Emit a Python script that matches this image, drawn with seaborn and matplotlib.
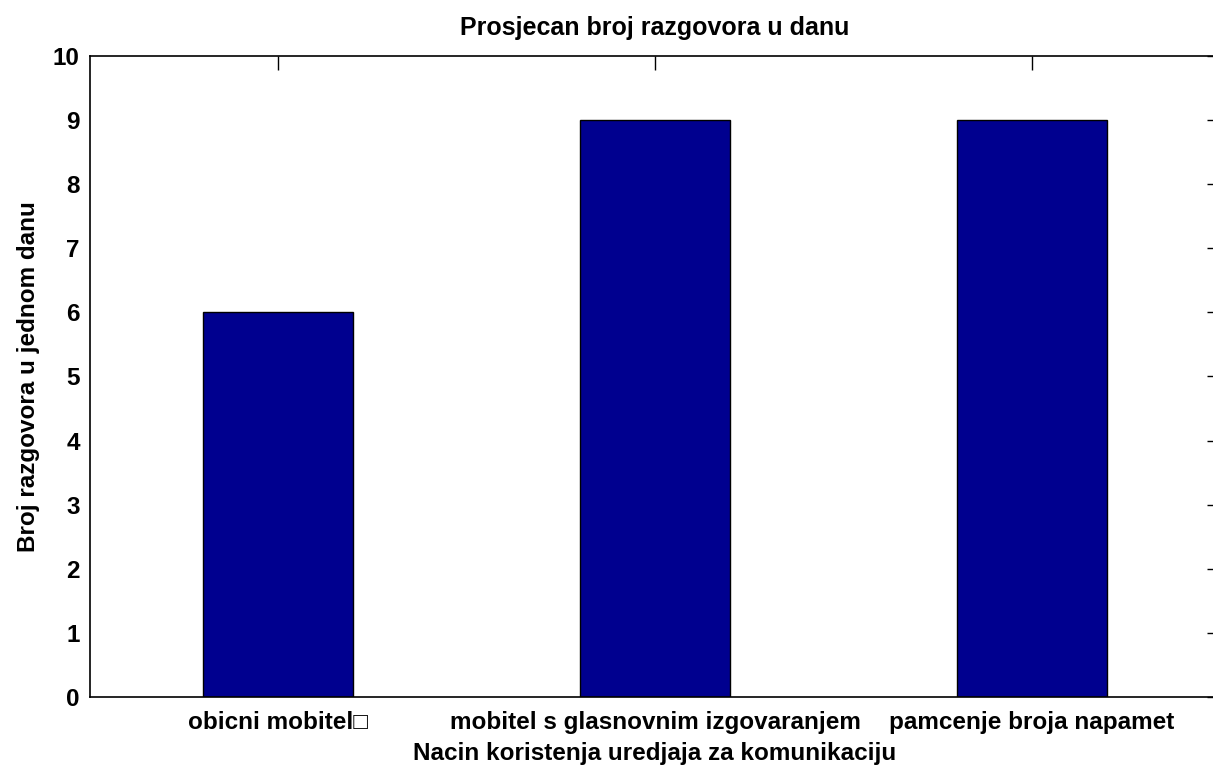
# Bar chart: average number of conversations per day by way of using the device
import pandas as pd
import matplotlib
matplotlib.use('Agg')
import matplotlib.pyplot as plt
import seaborn as sns

categories = ['obicni mobitel\u25a1', 'mobitel s glasnovnim izgovaranjem', 'pamcenje broja napamet']
values = [6, 9, 9]

df = pd.DataFrame({'nacin': categories, 'broj': values})

sns.set_style('white')
plt.rcParams['font.family'] = ['Liberation Sans', 'DejaVu Sans']
plt.rcParams['font.weight'] = 'bold'
plt.rcParams['text.color'] = 'black'
plt.rcParams['axes.labelcolor'] = 'black'

fig = plt.figure(figsize=(12.13, 7.67), dpi=100)
ax = fig.add_axes([0.0738, 0.0913, 0.9324, 0.8357])

sns.barplot(data=df, x='nacin', y='broj', color='#00008F', saturation=1,
            width=0.4, edgecolor='black', linewidth=1, ax=ax)

ax.set_xlim(-0.5, 2.5)
ax.set_ylim(0, 10)
ax.set_yticks(range(0, 11))

ax.tick_params(direction='in', length=10, width=1, top=True, right=True,
               labelsize=17.5, colors='black')
ax.tick_params(axis='x', pad=10)
ax.tick_params(axis='y', pad=7)
for lab in ax.get_xticklabels() + ax.get_yticklabels():
    lab.set_fontweight('bold')
for s in ax.spines.values():
    s.set_color('black')
    s.set_linewidth(1.2)

ax.set_title('Prosjecan broj razgovora u danu', fontsize=18, fontweight='bold',
             pad=15, color='black')
ax.set_xlabel('Nacin koristenja uredjaja za komunikaciju', fontsize=17.5,
              fontweight='bold', labelpad=6)
ax.set_ylabel('Broj razgovora u jednom danu', fontsize=17.5, fontweight='bold', labelpad=9)

fig.savefig('out.png', dpi=100)
